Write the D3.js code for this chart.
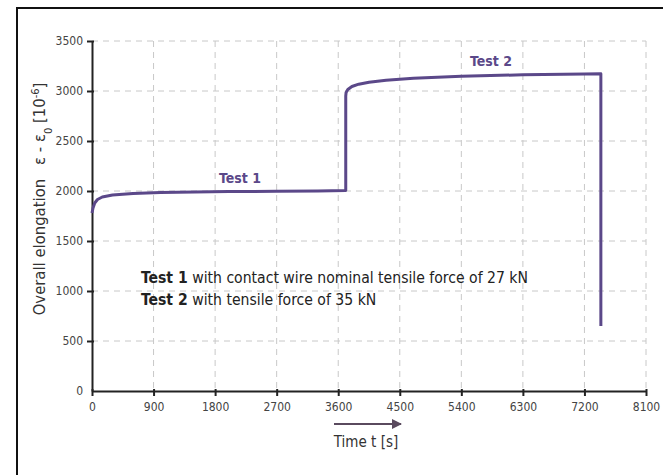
<!doctype html>
<html lang="en">
<head>
<meta charset="utf-8">
<title>overall elongation</title>
<script src="https://d3js.org/d3.v7.min.js"></script>
<style>
  body { margin: 0; background: #fff; }
  text { font-family: "Liberation Sans Narrow", "DejaVu Sans Condensed", "Liberation Sans", sans-serif; font-stretch: condensed; }
  .grid line { stroke: #c8c8c8; stroke-dasharray: 6,5; stroke-width: 1; }
  .axis text { fill: #444; font-size: 12px; }
</style>
</head>
<body>
<div id="chart"></div>
<script>
// data
var xTicks = [0, 900, 1800, 2700, 3600, 4500, 5400, 6300, 7200, 8100];
var yTicks = [0, 500, 1000, 1500, 2000, 2500, 3000, 3500];

var timeS = [0, 15, 40, 80, 150, 300, 600, 1000, 1500, 2000, 2700, 3300, 3710,
             3710, 3715, 3740, 3800, 3900, 4050, 4300, 4700, 5400, 6300, 7200, 7440, 7440];
var elong = [1780, 1830, 1880, 1915, 1940, 1960, 1975, 1984, 1990, 1994, 1997, 1999, 2005,
             2950, 2985, 3015, 3045, 3068, 3088, 3108, 3128, 3148, 3162, 3170, 3172, 650];

var width = 663, height = 475;

var svg = d3.select("#chart").append("svg")
  .attr("width", width)
  .attr("height", height);

// outer frame
svg.append("path")
  .attr("d", "M17," + height + "V8H" + width)
  .attr("fill", "none")
  .attr("stroke", "#111")
  .attr("stroke-width", 2);

var x = d3.scaleLinear().domain([0, 8100]).range([92, 646]);
var y = d3.scaleLinear().domain([0, 3500]).range([391, 41]);

// grid
var grid = svg.append("g").attr("class", "grid");
grid.selectAll(".h").data(yTicks.slice(1)).enter().append("line")
  .attr("x1", x(0)).attr("x2", x(8100))
  .attr("y1", function(d) { return y(d); })
  .attr("y2", function(d) { return y(d); });
grid.selectAll(".v").data(xTicks.slice(1)).enter().append("line")
  .attr("x1", function(d) { return x(d); })
  .attr("x2", function(d) { return x(d); })
  .attr("y1", y(3500)).attr("y2", y(0));

// axes
var xAxis = svg.append("g").attr("class", "axis")
  .attr("transform", "translate(0," + y(0) + ")")
  .call(d3.axisBottom(x).tickValues(xTicks).tickFormat(d3.format("d")).tickSize(5).tickSizeOuter(0).tickPadding(6));
var yAxis = svg.append("g").attr("class", "axis")
  .attr("transform", "translate(" + x(0) + ",0)")
  .call(d3.axisLeft(y).tickValues(yTicks).tickFormat(d3.format("d")).tickSize(5).tickSizeOuter(0).tickPadding(4));
svg.selectAll(".axis .domain").attr("stroke", "#222").attr("stroke-width", 2);
svg.selectAll(".axis .tick line").attr("stroke", "#222").attr("stroke-width", 2);
xAxis.selectAll(".tick line").attr("y1", -2);
yAxis.selectAll(".tick line").attr("x1", 2);
yAxis.selectAll(".tick").filter(function(d) { return d === 0; }).select("line").remove();
yAxis.selectAll(".tick").filter(function(d) { return d === 0; }).select("text").attr("x", -9);

// curve
var line = d3.line()
  .x(function(d, i) { return x(timeS[i]); })
  .y(function(d) { return y(d); });
svg.append("path")
  .datum(elong)
  .attr("d", line)
  .attr("fill", "none")
  .attr("stroke", "#5b4889")
  .attr("stroke-width", 3)
  .attr("stroke-linejoin", "round");

// labels
svg.append("text").attr("x", 240).attr("y", 183).attr("text-anchor", "middle")
  .style("font-weight", "bold").style("font-size", "14px").style("fill", "#5b4889").text("Test 1");
svg.append("text").attr("x", 491).attr("y", 66).attr("text-anchor", "middle")
  .style("font-weight", "bold").style("font-size", "14px").style("fill", "#5b4889").text("Test 2");

var note = svg.append("text").attr("x", 141).attr("y", 283).style("font-size", "15.6px").style("fill", "#222");
note.append("tspan").style("font-weight", "bold").text("Test 1");
note.append("tspan").text(" with contact wire nominal tensile force of 27 kN");
var note2 = svg.append("text").attr("x", 141).attr("y", 305).style("font-size", "15.6px").style("fill", "#222");
note2.append("tspan").style("font-weight", "bold").text("Test 2");
note2.append("tspan").text(" with tensile force of 35 kN");

// y axis title
var yt = svg.append("text")
  .attr("transform", "translate(45,199) rotate(-90)")
  .attr("text-anchor", "middle")
  .style("font-size", "16.5px").style("fill", "#333");
yt.append("tspan").text("Overall elongation");
yt.append("tspan").attr("dx", 14).text("\u03b5 - \u03b5");
yt.append("tspan").attr("baseline-shift", "sub").style("font-size", "11px").text("0");
yt.append("tspan").text(" [10");
yt.append("tspan").attr("baseline-shift", "super").style("font-size", "11px").text("-6");
yt.append("tspan").text("]");

// x axis title with arrow
svg.append("defs").append("marker")
  .attr("id", "arr").attr("viewBox", "0 0 10 10").attr("refX", 9).attr("refY", 5)
  .attr("markerWidth", 5).attr("markerHeight", 5).attr("orient", "auto")
  .append("path").attr("d", "M0,0L10,5L0,10z").attr("fill", "#5a4a5e");
svg.append("line")
  .attr("x1", 334).attr("x2", 401).attr("y1", 424).attr("y2", 424)
  .attr("stroke", "#5a4a5e").attr("stroke-width", 2).attr("marker-end", "url(#arr)");
svg.append("text").attr("x", 366).attr("y", 447).attr("text-anchor", "middle")
  .style("font-size", "15px").style("fill", "#333").text("Time t [s]");
</script>
</body>
</html>
